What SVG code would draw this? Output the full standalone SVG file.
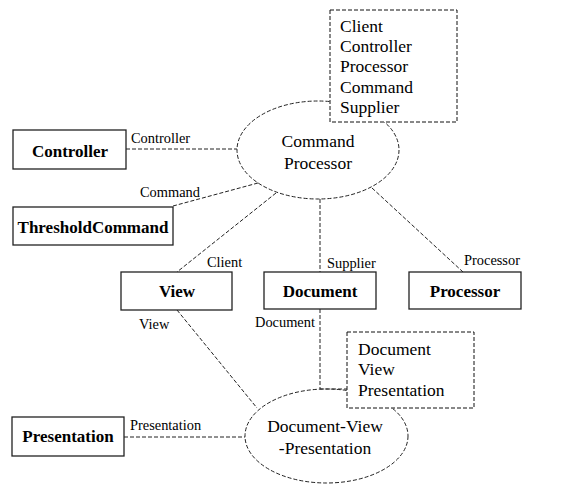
<svg xmlns="http://www.w3.org/2000/svg" width="577" height="484" viewBox="0 0 577 484">
  <style>
    .box { fill: #fff; stroke: #222; stroke-width: 1.3; }
    .note { fill: #fff; stroke: #111; stroke-width: 1; stroke-dasharray: 4 2; }
    .oval { fill: none; stroke: #222; stroke-width: 1; stroke-dasharray: 4 2; }
    .link { fill: none; stroke: #222; stroke-width: 1; stroke-dasharray: 4 2; }
    .name { font-family: "Liberation Serif", "Times New Roman", serif; font-weight: bold; font-size: 17px; fill: #000; text-anchor: middle; }
    .body { font-family: "Liberation Serif", "Times New Roman", serif; font-size: 17.5px; fill: #000; }
    .mid { text-anchor: middle; }
    .role { font-family: "Liberation Serif", "Times New Roman", serif; font-size: 14.4px; fill: #000; }
  </style>
  <rect width="577" height="484" fill="#fff"/>

  <g id="connectors">
    <line class="link" x1="126" y1="149" x2="237" y2="149"/>
    <line class="link" x1="173" y1="206" x2="258" y2="183"/>
    <line class="link" x1="276" y1="193" x2="177" y2="272"/>
    <line class="link" x1="320" y1="199" x2="320" y2="272"/>
    <line class="link" x1="372" y1="188" x2="463" y2="272"/>
    <line class="link" x1="177" y1="310" x2="257" y2="408"/>
    <line class="link" x1="320" y1="309" x2="320" y2="389"/>
    <line class="link" x1="320" y1="389" x2="347" y2="389"/>
    <line class="link" x1="124" y1="437" x2="245" y2="437"/>
    <text class="role" x="131" y="143">Controller</text>
    <text class="role" x="140" y="197">Command</text>
    <text class="role" x="207" y="267">Client</text>
    <text class="role" x="327" y="268">Supplier</text>
    <text class="role" x="464" y="265">Processor</text>
    <text class="role" x="139" y="329">View</text>
    <text class="role" x="255" y="327">Document</text>
    <text class="role" x="130" y="430">Presentation</text>
  </g>

  <g id="command-processor">
    <ellipse class="oval" cx="318" cy="150" rx="81" ry="49"/>
    <text class="body mid" x="318" y="147">Command</text>
    <text class="body mid" x="318" y="169">Processor</text>
  </g>

  <g id="command-processor-roles">
    <rect class="note" x="330" y="10" width="127" height="112"/>
    <text class="body" x="340" y="32">Client</text>
    <text class="body" x="340" y="52">Controller</text>
    <text class="body" x="340" y="72">Processor</text>
    <text class="body" x="340" y="93">Command</text>
    <text class="body" x="340" y="113">Supplier</text>
  </g>

  <g id="controller">
    <rect class="box" x="13" y="130" width="113" height="39"/>
    <text class="name" x="70" y="157">Controller</text>
  </g>

  <g id="threshold-command">
    <rect class="box" x="13" y="207" width="160" height="38"/>
    <text class="name" x="93" y="233">ThresholdCommand</text>
  </g>

  <g id="view">
    <rect class="box" x="121" y="272" width="111" height="38"/>
    <text class="name" x="177" y="297">View</text>
  </g>

  <g id="document">
    <rect class="box" x="264" y="272" width="112" height="37"/>
    <text class="name" x="320" y="297">Document</text>
  </g>

  <g id="processor">
    <rect class="box" x="409" y="272" width="112" height="37"/>
    <text class="name" x="465" y="297">Processor</text>
  </g>

  <g id="document-view-presentation">
    <ellipse class="oval" cx="326.5" cy="436" rx="81.5" ry="47"/>
    <text class="body mid" x="325" y="432">Document-View</text>
    <text class="body mid" x="325" y="454">-Presentation</text>
  </g>

  <g id="dvp-roles">
    <rect class="note" x="347" y="332" width="127" height="76"/>
    <text class="body" x="358" y="355">Document</text>
    <text class="body" x="358" y="375">View</text>
    <text class="body" x="358" y="396">Presentation</text>
  </g>

  <g id="presentation">
    <rect class="box" x="12" y="417" width="112" height="39"/>
    <text class="name" x="68" y="442">Presentation</text>
  </g>
</svg>
